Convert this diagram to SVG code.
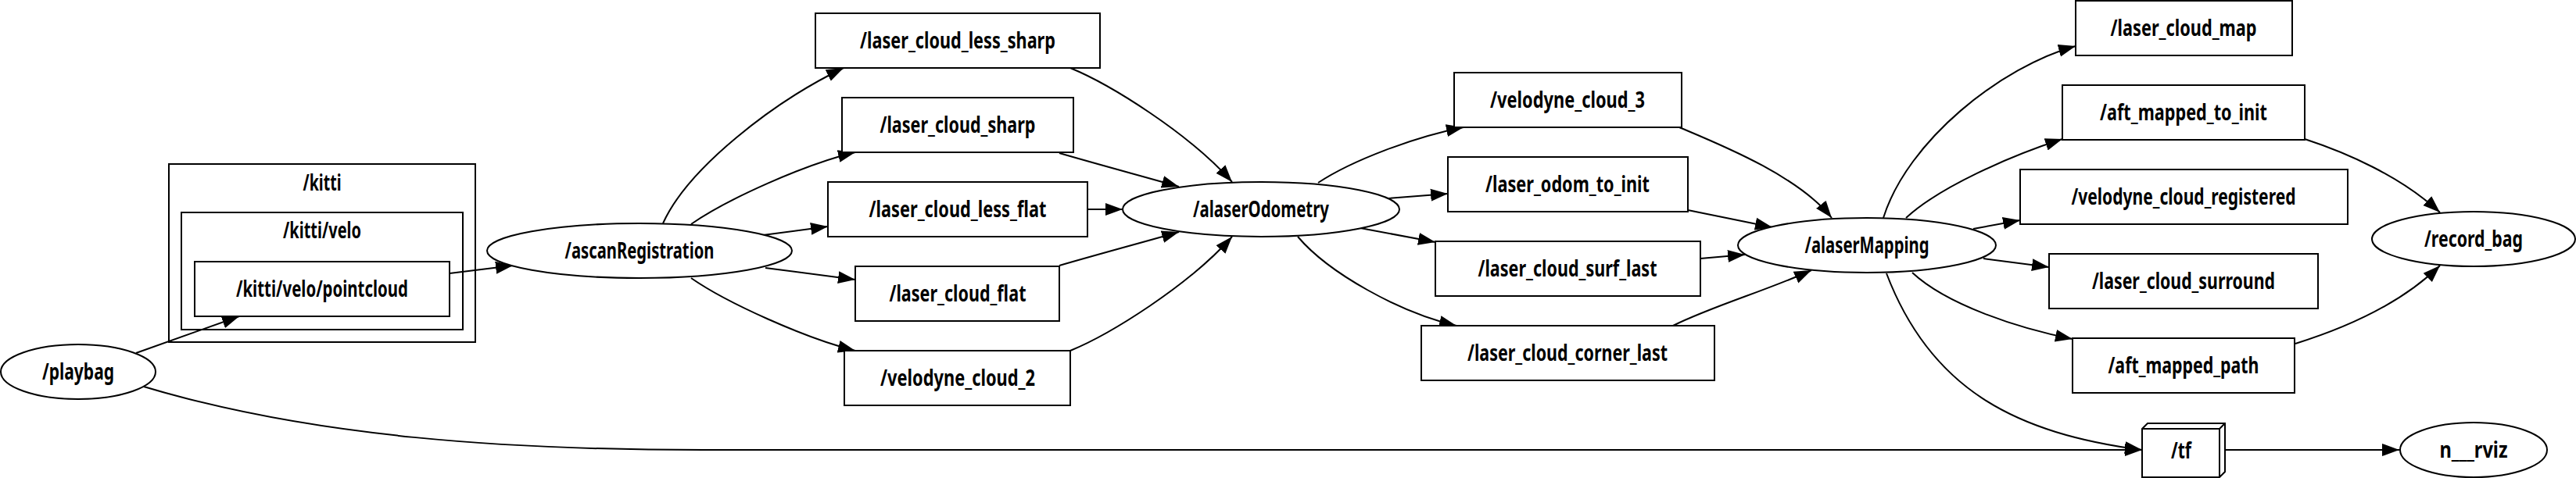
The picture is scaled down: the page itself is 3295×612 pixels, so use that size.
<svg xmlns="http://www.w3.org/2000/svg" width="3295" height="612" viewBox="0 0 3295 612">
<style>
.n{fill:#fff;stroke:#000;stroke-width:2}
.c{fill:none;stroke:#000;stroke-width:2}
.e{fill:none;stroke:#000;stroke-width:2;marker-end:url(#ah)}
text{font-family:"Noto Sans","Liberation Sans",sans-serif;font-weight:700;font-size:28px;text-anchor:middle;fill:#000}
</style>
<defs>
<marker id="ah" markerUnits="userSpaceOnUse" markerWidth="24" markerHeight="18" viewBox="0 0 24 18" refX="22" refY="9" orient="auto"><path d="M0,1 L22,9 L0,17 z" fill="#000"/></marker>
</defs>
<rect width="3295" height="612" fill="#fff"/>
<g id="cluster_kitti">
<rect class="c" x="216" y="210" width="392" height="228"/>
<text x="412" y="244" textLength="49" lengthAdjust="spacingAndGlyphs">/kitti</text>
</g>
<g id="cluster_kitti_velo">
<rect class="c" x="232" y="272" width="360" height="150"/>
<text x="412" y="305" textLength="100" lengthAdjust="spacingAndGlyphs">/kitti/velo</text>
</g>
<g id="edges">
<path class="e" d="M174,452 L306,405"/>
<path class="e" d="M575,350 L656,340"/>
<path class="e" d="M184,495 C400,560 650,576 900,576 L2740,576"/>
<path class="e" d="M848,286 C880,215 990,130 1079,87"/>
<path class="e" d="M884,287 C930,255 1030,210 1094,195"/>
<path class="e" d="M976,301 L1059,290"/>
<path class="e" d="M979,343 L1094,358"/>
<path class="e" d="M884,356 C930,388 1030,433 1094,449"/>
<path class="e" d="M1369,87 C1420,108 1520,170 1576,233"/>
<path class="e" d="M1355,196 C1410,212 1470,228 1508,239"/>
<path class="e" d="M1391,268 L1436,268"/>
<path class="e" d="M1355,340 C1410,324 1470,308 1508,297"/>
<path class="e" d="M1369,449 C1420,428 1520,366 1576,303"/>
<path class="e" d="M1686,234 C1730,205 1810,175 1872,163"/>
<path class="e" d="M1776,254 L1852,248"/>
<path class="e" d="M1740,292 L1836,310"/>
<path class="e" d="M1660,303 C1700,350 1790,400 1863,417"/>
<path class="e" d="M2148,163 C2200,185 2300,225 2343,279"/>
<path class="e" d="M2159,269 L2267,291"/>
<path class="e" d="M2175,331 L2232,326"/>
<path class="e" d="M2140,417 C2190,392 2260,372 2317,346"/>
<path class="e" d="M2409,279 C2440,180 2560,85 2655,59"/>
<path class="e" d="M2438,279 C2480,240 2570,200 2638,178"/>
<path class="e" d="M2524,293 L2584,282"/>
<path class="e" d="M2537,331 L2621,342"/>
<path class="e" d="M2446,349 C2490,390 2580,420 2651,434"/>
<path class="e" d="M2413,350 C2470,500 2580,555 2740,576"/>
<path class="e" d="M2948,178 C3000,195 3070,225 3121,272"/>
<path class="e" d="M2936,440 C3000,420 3070,390 3121,340"/>
<path class="e" d="M2847,576 L3069,576"/>
</g>
<g id="playbag">
<ellipse class="n" cx="100" cy="476" rx="99" ry="35"/>
<text x="100" y="486" textLength="92" lengthAdjust="spacingAndGlyphs">/playbag</text>
</g>
<g id="kitti_velo_pointcloud">
<rect class="n" x="249" y="335" width="326" height="70"/>
<text x="412" y="380" textLength="220" lengthAdjust="spacingAndGlyphs">/kitti/velo/pointcloud</text>
</g>
<g id="ascanRegistration">
<ellipse class="n" cx="818" cy="321" rx="195" ry="35"/>
<text x="818" y="331" textLength="191" lengthAdjust="spacingAndGlyphs">/ascanRegistration</text>
</g>
<g id="laser_cloud_less_sharp">
<rect class="n" x="1043" y="17" width="364" height="70"/>
<text x="1225" y="62" textLength="250" lengthAdjust="spacingAndGlyphs">/laser_cloud_less_sharp</text>
</g>
<g id="laser_cloud_sharp">
<rect class="n" x="1077" y="125" width="296" height="70"/>
<text x="1225" y="170" textLength="199" lengthAdjust="spacingAndGlyphs">/laser_cloud_sharp</text>
</g>
<g id="laser_cloud_less_flat">
<rect class="n" x="1059" y="233" width="332" height="70"/>
<text x="1225" y="278" textLength="227" lengthAdjust="spacingAndGlyphs">/laser_cloud_less_flat</text>
</g>
<g id="laser_cloud_flat">
<rect class="n" x="1094" y="341" width="261" height="70"/>
<text x="1225" y="386" textLength="175" lengthAdjust="spacingAndGlyphs">/laser_cloud_flat</text>
</g>
<g id="velodyne_cloud_2">
<rect class="n" x="1080" y="449" width="289" height="70"/>
<text x="1225" y="494" textLength="198" lengthAdjust="spacingAndGlyphs">/velodyne_cloud_2</text>
</g>
<g id="alaserOdometry">
<ellipse class="n" cx="1613" cy="268" rx="177" ry="35"/>
<text x="1613" y="278" textLength="174" lengthAdjust="spacingAndGlyphs">/alaserOdometry</text>
</g>
<g id="velodyne_cloud_3">
<rect class="n" x="1860" y="93" width="291" height="70"/>
<text x="2005" y="138" textLength="198" lengthAdjust="spacingAndGlyphs">/velodyne_cloud_3</text>
</g>
<g id="laser_odom_to_init">
<rect class="n" x="1852" y="201" width="307" height="70"/>
<text x="2005" y="246" textLength="210" lengthAdjust="spacingAndGlyphs">/laser_odom_to_init</text>
</g>
<g id="laser_cloud_surf_last">
<rect class="n" x="1836" y="309" width="339" height="70"/>
<text x="2005" y="354" textLength="229" lengthAdjust="spacingAndGlyphs">/laser_cloud_surf_last</text>
</g>
<g id="laser_cloud_corner_last">
<rect class="n" x="1818" y="417" width="375" height="70"/>
<text x="2005" y="462" textLength="256" lengthAdjust="spacingAndGlyphs">/laser_cloud_corner_last</text>
</g>
<g id="alaserMapping">
<ellipse class="n" cx="2388" cy="314" rx="165" ry="35"/>
<text x="2388" y="324" textLength="159" lengthAdjust="spacingAndGlyphs">/alaserMapping</text>
</g>
<g id="laser_cloud_map">
<rect class="n" x="2655" y="1" width="277" height="70"/>
<text x="2793" y="46" textLength="187" lengthAdjust="spacingAndGlyphs">/laser_cloud_map</text>
</g>
<g id="aft_mapped_to_init">
<rect class="n" x="2638" y="109" width="310" height="70"/>
<text x="2793" y="154" textLength="214" lengthAdjust="spacingAndGlyphs">/aft_mapped_to_init</text>
</g>
<g id="velodyne_cloud_registered">
<rect class="n" x="2584" y="217" width="419" height="70"/>
<text x="2793" y="262" textLength="287" lengthAdjust="spacingAndGlyphs">/velodyne_cloud_registered</text>
</g>
<g id="laser_cloud_surround">
<rect class="n" x="2621" y="325" width="344" height="70"/>
<text x="2793" y="370" textLength="234" lengthAdjust="spacingAndGlyphs">/laser_cloud_surround</text>
</g>
<g id="aft_mapped_path">
<rect class="n" x="2651" y="433" width="284" height="70"/>
<text x="2793" y="478" textLength="193" lengthAdjust="spacingAndGlyphs">/aft_mapped_path</text>
</g>
<g id="tf">
<path class="n" d="M2740,549 L2747,542 L2846,542 L2846,604 L2839,611 L2740,611 Z"/>
<path class="c" d="M2740,549 L2839,549 L2839,611 M2839,549 L2846,542"/>
<text x="2790" y="587" textLength="26" lengthAdjust="spacingAndGlyphs">/tf</text>
</g>
<g id="record_bag">
<ellipse class="n" cx="3164" cy="306" rx="130" ry="35"/>
<text x="3164" y="316" textLength="126" lengthAdjust="spacingAndGlyphs">/record_bag</text>
</g>
<g id="n___rviz">
<ellipse class="n" cx="3164" cy="576" rx="94" ry="35"/>
<text x="3164" y="586" textLength="87" lengthAdjust="spacingAndGlyphs">n___rviz</text>
</g>
</svg>
